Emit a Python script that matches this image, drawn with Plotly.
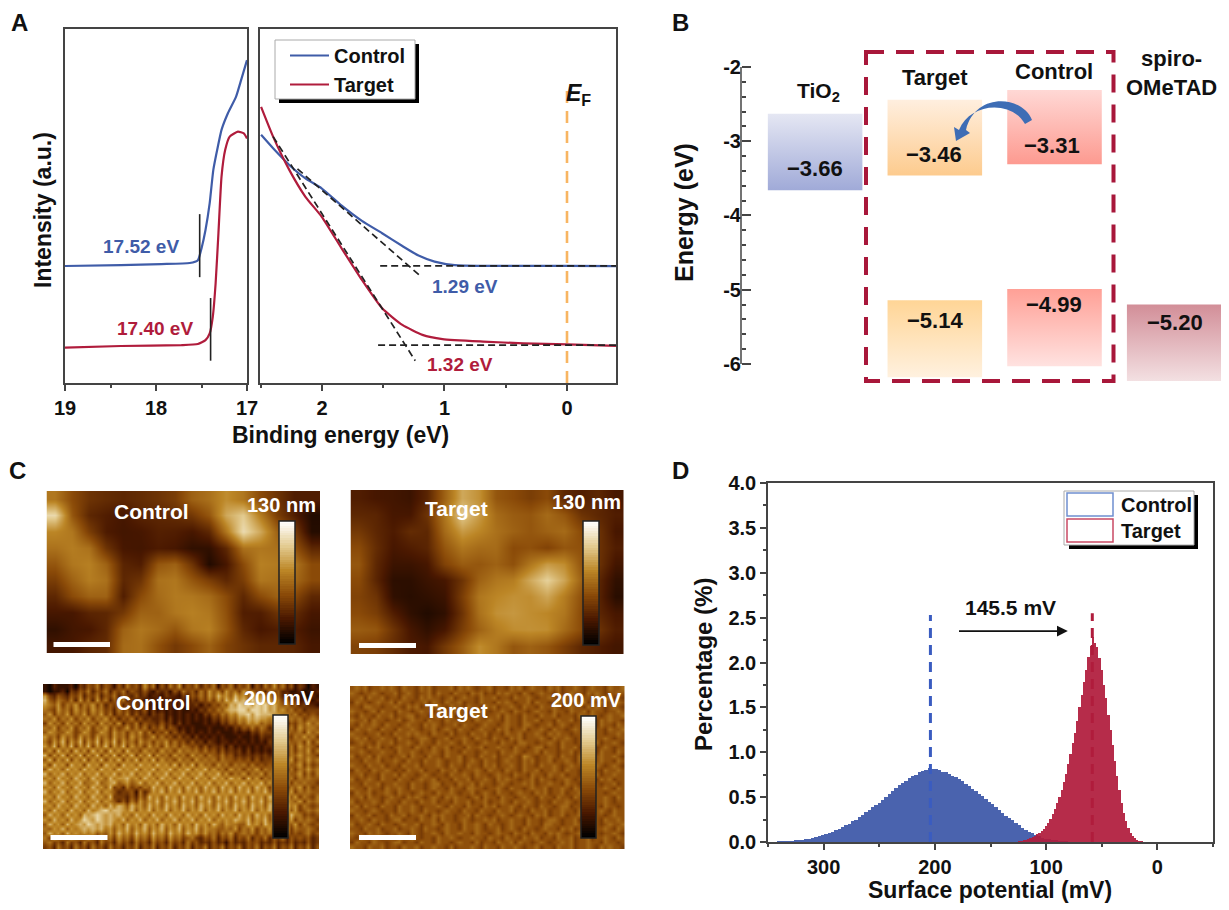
import plotly.graph_objects as go

W, H = 1229, 910
PAGE_PAD = 8
FIG_W, FIG_H = W - 2 * PAGE_PAD, H - PAGE_PAD
FONT = "Liberation Sans"
BLUE = "#3F5CA8"
RED = "#B01C3C"
INK = "#111111"
AXC = "#444444"

# ---------- Panel A data ----------
cutoff_ev_control = [19, 18.385, 17.94, 17.63, 17.54, 17.5, 17.456, 17.41, 17.37, 17.32, 17.28, 17.21, 17.12, 17.06, 17.0]
cutoff_int_control = [33.05, 33.3, 33.6, 33.9, 34.7, 38, 43.2, 50.8, 60.2, 66.8, 71.5, 76.2, 80.9, 86, 91.2]
cutoff_ev_target = [19, 18.385, 17.72, 17.54, 17.456, 17.41, 17.376, 17.345, 17.314, 17.28, 17.24, 17.19, 17.10, 17.035, 17.0]
cutoff_int_target = [9.97, 10.45, 10.7, 11, 12.1, 14, 18.7, 28.1, 42.3, 58.3, 65.8, 69.6, 71, 70.5, 69.1]
valence_ev_control = [2.497, 2.399, 2.267, 2.135, 2.003, 1.839, 1.674, 1.509, 1.344, 1.212, 1.081, 0.916, 0.685, 0.356, 0, -0.40]
valence_int_control = [70.1, 66.3, 61.6, 57.8, 55, 50.1, 45.8, 42.3, 38.7, 36, 34.3, 33.3, 33.1, 33.1, 33.1, 33]
valence_ev_target = [2.497, 2.399, 2.267, 2.135, 2.003, 1.839, 1.674, 1.509, 1.344, 1.18, 1.016, 0.685, 0.356, 0, -0.40]
valence_int_target = [78, 69.6, 60.2, 52.6, 47, 38, 29.1, 21.1, 16.4, 13.6, 12.4, 11.7, 11.2, 10.9, 10.5]
tangent_control = ([2.20, 1.196], [60.5, 30.2])
tangent_target = ([2.399, 1.239], [69.6, 6.3])
baseline_control = ([1.525, -0.40], [33.1, 33.1])
baseline_target = ([1.542, -0.40], [10.7, 10.7])
onset_control = ([17.52, 17.52], [47.7, 29.9])
onset_target = ([17.40, 17.40], [24, 6.3])
fermi = ([0, 0], [0, 82.5])

# ---------- Panel B data ----------
layer_names = ["TiO<sub>2</sub>", "Target", "Control", "spiro-<br>OMeTAD"]
layer_level_top = [-2.63, -2.44, -2.31, None]
layer_level_bottom = [-3.66, -3.46, -3.31, None]
layer_hole_top = [None, -5.14, -4.99, -5.20]
layer_hole_bottom = [None, -6.18, -6.03, -6.23]

# ---------- Panel D data ----------
control_pct = [.002,.003,.005,.007,.01,.013,.017,.022,.028,.035,.043,.052,.062,.074,.086,.10,.113,.13,.15,.165,.185,.205,.23,.25,.28,.30,.33,.355,.385,.41,.44,.47,.50,.535,.57,.60,.63,.66,.685,.71,.73,.75,.775,.79,.80,.82,.81,.815,.80,.785,.775,.76,.74,.72,.70,.675,.65,.625,.595,.57,.54,.51,.48,.45,.42,.385,.355,.325,.295,.265,.24,.21,.185,.16,.135,.115,.095,.078,.062,.05,.038,.03,.022,.015,.01,.006,.003]
target_pct = [.002,.005,.01,.015,.02,.027,.035,.045,.055,.07,.085,.105,.125,.15,.18,.215,.26,.31,.37,.43,.50,.58,.67,.76,.87,.98,1.10,1.22,1.35,1.50,1.64,1.78,1.92,2.06,2.18,2.28,2.22,2.17,2.05,1.92,1.75,1.60,1.42,1.25,1.08,.90,.73,.58,.44,.32,.23,.16,.10,.065,.04,.022,.012,.006,.003,.001]
control_start_mV, control_bin = 340, 3
target_start_mV, target_bin = 128, 2
peak_control, peak_target = 204, 58.5

# ---------- Panel C data ----------
height_control = [
 [55,40,31,28,26,28,31,35,48,53,62,55,40,31,22,22],
 [85,44,26,22,19,25,26,28,33,44,70,80,57,35,22,9],
 [60,55,35,21,18,19,23,22,19,26,55,86,70,48,35,10],
 [53,57,53,31,19,18,21,19,13,13,26,53,55,53,44,26],
 [44,55,58,48,25,22,44,48,31,9,19,40,58,56,55,40],
 [35,48,57,53,26,31,53,55,44,35,26,35,55,53,51,40],
 [26,40,48,48,22,40,51,56,55,51,40,26,40,48,40,26],
 [19,19,25,26,33,48,48,55,58,55,42,22,22,31,28,19],
 [13,18,19,26,48,55,51,44,55,58,44,26,19,22,22,16],
 [18,19,25,28,51,53,42,33,40,48,37,31,26,26,25,19]]
height_target = [
 [22,19,18,16,25,48,70,63,44,40,35,40,26,22,26,19],
 [26,25,19,19,31,55,80,66,51,46,44,51,44,31,26,22],
 [33,26,21,28,26,51,66,60,53,48,44,48,51,40,31,19],
 [40,28,19,22,25,44,55,51,51,40,42,37,44,42,31,22],
 [44,26,16,16,19,37,46,44,48,42,55,66,62,44,31,18],
 [40,25,12,12,16,19,31,48,55,57,70,82,69,48,26,13],
 [37,31,13,11,13,16,35,55,60,63,62,69,57,42,25,11],
 [40,35,22,13,9,13,31,53,63,65,62,60,55,40,26,19],
 [46,44,31,19,13,19,35,48,57,62,63,62,51,40,31,22],
 [37,35,28,21,19,33,46,62,55,44,48,44,35,26,22,18]]
potential_control_rows = [
 "2132223143546354253645374625364735463546254635462536474635243132",
 "2122314354635463546354353243425364536475647564756453645332231223",
 "7435435463546354635435342332433243546475867586758675645342322132",
 "8546546374637463546343423233232332435464758697869786756453423223",
 "7657465746574635463534342323232323342435465879897989786564534332",
 "6547564756475645364534352423232322324354657889979989786756453444",
 "5746574657465746354635342434232323232435465768897988877665645454",
 "6574657465746574635463534334242323232324354657687877676756564565",
 "4756475647564756473546354435342423222323243546576756564635465756",
 "6574657465746574645746463546354232322232223243546465354546475665",
 "5765576457645764756465746354635342323232322232324354435465564756",
 "7564756475647564756475645746453534242323232223223243345454657564",
 "6475847584758475847564756465746453534243233232323232435465564746",
 "7584758475847584758475647564756465453534342423232323343546475654",
 "5748574857485748574856475647564756564645353434242323243546465746",
 "8475847584758475847584758475647564756465464534343434344546575654",
 "5847584758475847584758475847564756475656465545453534454657465756",
 "7486748674867486748675867586758475847564756465646454545465574645",
 "5867586758675867586768576857685768576857564756465746564546465756",
 "8576857685768576857685768576857685768576857465746574657465574646",
 "6758675867586758677867586758675867586758675867485746574656465655",
 "8576857685668567856756857685768576857685768576857685746574656554",
 "6758675867586758453645465867586758675867586758675867485746574645",
 "8576857685768576534452635768576857685768576857685768576857465655",
 "6758675867586758444353648675867586758675867586758675867485746546",
 "8576857685768576535364757685768576857685768576857685768576574656",
 "6758675867586758687586758675867586758675867586758675867586746545",
 "7586758675867897887685768576857685768576857685768576857685745656",
 "5867586758789878786758675867586758675867586758675867586758664545",
 "7586758679879878768576857685768576857685767687685768576857465654",
 "5867586787987878675867586758675867586758657665586758675865746545",
 "6576857678787867576857685768576857685766556574657465746574655654",
 "5867586767675657586758675867586758675756465745656465646564545645",
 "6475647564754656475647564756475645643546354635463546354635454534",
 "5645364536453645364536453645364536453435342534354534353435343534",
 "4536453645364536453546354635463546354635463546354635463546354635"]
potential_target_rows = [
 "4545344545435443545344453545434453443545345443545344543454435445",
 "5434454344534543445354435443545343545443543454435345443545434454",
 "4453544534435443545443453454435445344354454344543544534435445343",
 "3544345445354434453543544534435443545434453544345443545344534454",
 "4435544344543545344454354435443545344543544354454345443545434543",
 "5443453544354434544354435443545434454354434544354435445354434454",
 "4354435445344553443454453443554344535443544354453444354454345445",
 "5445354434453454435443544534354454435443544534435445344543545443",
 "4354454354434544354543445354434544345443554344534543445443544354",
 "3544543544354454344534543544345443545344534454354434544534435445",
 "5443445343544545443544353443544534435445344543545443445354434454",
 "4545344544354434554344534454354435443545344454354454344354454344",
 "3454435445344543544354454354434544354435544344543544345445344543",
 "5443545343454435443544534435445344544354434553443544535443454344",
 "4454344544354454344543544354434544354454344535443445345443544354",
 "5344535443445354435443544534435445344543654344543544354434544543",
 "4435445344543544354454344534543544345443545344534454354434544354",
 "5443544534435445344454354435443545344543544354454345443545434543",
 "3544354454343544534435445344454354435443544534454354434544354454",
 "4453443544535443454344354454354434544354435443544534435445344544",
 "5344543544354434544534435445344543545443445354434454345443545344",
 "4435445344544354434553443544535443454344545344544354434554344534",
 "5443544354454354434544354435544344543544345445344543544354454354",
 "3544534454354434544354454344534543544345443545344534454354434544",
 "4453544345443545434543545443453544354434544354435443545434454354",
 "5344454354435443544534435445344534454354454344354454344354454344",
 "4535443544354454344454354435443545344543544354434553443544354434",
 "5443454344354454354434544354435443544534435445344544353444543544",
 "3544534435445344543545443445354434454345443545344534454354434544",
 "4454354434553443544535443454344545344544354434554344534544354454",
 "5344543544345445344543544354454354434544354435544344543544345445",
 "4435445344534454354434544354454344534543544345443545344534454354",
 "5443545434454354344543544544354434544354435443545434454354344543",
 "4354454344354454344354454344544354435443544534435445344534454354",
 "3544354434553443544354434544353443544535443454344545344544354434",
 "5443544534435445344544353444543544354454344534435445344543545443"]

def digit_grid(rows, step, base):
    n = min(len(r) for r in rows)
    return [[int(c) * step + base for c in r[:n]] for r in rows]

potential_control = digit_grid(potential_control_rows, 10, -6)
potential_target = digit_grid(potential_target_rows, 8, 10)
colorbar_levels = [[v] for v in range(100, -1, -2)]

# ---------- helpers ----------
def fx(p): return (p - PAGE_PAD) / FIG_W
def fy(p): return 1 - (p - PAGE_PAD) / FIG_H
def dx(a, b): return [fx(a), fx(b)]
def dy(top, bottom): return [fy(bottom), fy(top)]

def label(text, px, py, size=17, color=INK, bold=True, angle=0, anchor="center"):
    t = f"<b>{text}</b>" if bold else text
    return dict(text=t, x=fx(px), y=fy(py), xref="paper", yref="paper", showarrow=False,
                xanchor=anchor, yanchor="middle", textangle=angle,
                font=dict(family=FONT, size=size, color=color))

def rect(x0, y0, x1, y1, fill, line=None, lw=1):
    return dict(type="rect", xref="paper", yref="paper", x0=fx(x0), x1=fx(x1), y0=fy(y0), y1=fy(y1),
                fillcolor=fill, line=dict(color=line or fill, width=lw if line else 0))

fig = go.Figure()
TICKF = dict(family=FONT, size=20, color=INK, weight=700)

def line(x, y, color, width=2.2, dash="solid", xa="x", ya="y", name=None, legend=False, smooth=False):
    ln = dict(color=color, width=width, dash=dash)
    if smooth:
        ln.update(shape="spline", smoothing=0.5)
    fig.add_trace(go.Scatter(x=x, y=y, mode="lines", name=name, showlegend=legend, line=ln, xaxis=xa, yaxis=ya))

# ---------- Panel A ----------
line(cutoff_ev_control, cutoff_int_control, BLUE, smooth=True)
line(cutoff_ev_target, cutoff_int_target, RED, smooth=True)
line(*onset_control, "#222222", 1.6)
line(*onset_target, "#222222", 1.6)
line(valence_ev_control, valence_int_control, BLUE, xa="x2", ya="y2", name="Control", legend=True, smooth=True)
line(valence_ev_target, valence_int_target, RED, xa="x2", ya="y2", name="Target", legend=True, smooth=True)
for seg in (tangent_control, tangent_target, baseline_control, baseline_target):
    line(*seg, "#222222", 1.7, "7px,4px", "x2", "y2")
line(*fermi, "#F8B562", 2.6, "12px,8px", "x2", "y2")

# ---------- Panel B ----------
gradients = {
    "upper": [["#A0AAD8", "#E5E7F3"], ["#FDCB8E", "#FFEFDF"], ["#FD9A90", "#FFD8D5"], None],
    "lower": [None, ["#FFF1DF", "#FFD596"], ["#FFE2E0", "#FFA096"], ["#F3E0E2", "#D28E98"]],
}
col_half = 0.395
def box(i, top, bottom, cols):
    fig.add_trace(go.Scatter(
        x=[i - col_half, i + col_half, i + col_half, i - col_half, i - col_half],
        y=[top, top, bottom, bottom, top], mode="lines", fill="toself", showlegend=False,
        line=dict(width=0, color="rgba(0,0,0,0)"), hoverinfo="skip",
        fillgradient=dict(type="vertical", colorscale=[[0, cols[0]], [1, cols[1]]]),
        xaxis="x3", yaxis="y3"))
for i in range(4):
    if layer_level_top[i] is not None:
        box(i, layer_level_top[i], layer_level_bottom[i], gradients["upper"][i])
    if layer_hole_top[i] is not None:
        box(i, layer_hole_top[i], layer_hole_bottom[i], gradients["lower"][i])

# ---------- Panel C ----------
AFM = [[0, "#000000"], [0.2, "#4A1800"], [0.4, "#8A4A08"], [0.6, "#BC8626"], [0.8, "#E3CB90"], [1, "#FFFFFF"]]
maps = [
    (height_control, (46.5, 320), (491, 653), (279, 295), (521, 644), "4", "9"),
    (height_target, (350.5, 624), (490, 654), (583, 599), (521, 645), "5", "10"),
    (potential_control, (43, 319), (684, 849), (273, 288), (715, 838), "6", "11"),
    (potential_target, (350, 624.5), (686, 849), (581, 596), (716, 838), "7", "12"),
]
for z, _, _, _, _, n, m in maps:
    fig.add_trace(go.Heatmap(z=z, zmin=0, zmax=100, colorscale=AFM, zsmooth="best", showscale=False,
                             xaxis="x" + n, yaxis="y" + n, hoverinfo="skip"))
for z, _, _, _, _, n, m in maps:
    fig.add_trace(go.Heatmap(z=colorbar_levels, zmin=0, zmax=100, colorscale=AFM, showscale=False,
                             xaxis="x" + m, yaxis="y" + m, hoverinfo="skip"))

# ---------- Panel D ----------
fig.add_trace(go.Bar(x=[control_start_mV - control_bin * i for i in range(len(control_pct))], y=control_pct,
                     width=control_bin, marker=dict(color="#4A63AE", line=dict(width=0)), showlegend=False,
                     xaxis="x8", yaxis="y8"))
fig.add_trace(go.Bar(x=[target_start_mV - target_bin * i for i in range(len(target_pct))], y=target_pct,
                     width=target_bin, marker=dict(color="rgba(176,28,60,0.93)", line=dict(width=0)), showlegend=False,
                     xaxis="x8", yaxis="y8"))
line([peak_control, peak_control], [0, 2.53], "#3A5CC0", 3, "10px,7px", "x8", "y8")
line([peak_target, peak_target], [0, 2.55], "#B01C3C", 3, "10px,7px", "x8", "y8")

# ---------- Axes ----------
common = dict(showgrid=False, zeroline=False, linecolor=AXC, linewidth=1.5, mirror=True, automargin=False)
tickc = dict(ticks="outside", ticklen=6, tickwidth=1.5, tickcolor=AXC, tickfont=TICKF)
layout = dict(
    template="none",
    width=FIG_W, height=FIG_H, margin=dict(l=0, r=0, t=0, b=0), paper_bgcolor="white", plot_bgcolor="white",
    barmode="overlay", bargap=0,
    xaxis=dict(domain=dx(65, 247), range=[19, 17], tickvals=[19, 18, 17], anchor="y",
               minor=dict(tickvals=[18.5, 17.5], ticks="outside", ticklen=3, tickcolor=AXC), **common, **tickc),
    yaxis=dict(domain=dy(29, 383), range=[0, 100], showticklabels=False, ticks="", anchor="x", **common),
    xaxis2=dict(domain=dx(259.5, 616), range=[2.51, -0.4], tickvals=[2, 1, 0], anchor="y2",
                minor=dict(tickvals=[2.5, 1.5, 0.5], ticks="outside", ticklen=3, tickcolor=AXC), **common, **tickc),
    yaxis2=dict(domain=dy(29, 383), range=[0, 100], showticklabels=False, ticks="", anchor="x2", **common),
    xaxis3=dict(domain=dx(742, 1221), range=[-0.611, 3.391], visible=False, anchor="y3"),
    yaxis3=dict(domain=dy(45, 385), range=[-6.283, -1.704], tickvals=[-2, -3, -4, -5, -6],
                ticktext=["-2", "-3", "-4", "-5", "-6"], ticks="inside", ticklen=9, tickwidth=1.5, tickcolor=AXC,
                tickfont=TICKF, showgrid=False, zeroline=False, showline=False, anchor="x3", automargin=False,
                minor=dict(tickvals=[-2 - 0.2 * k for k in range(21)], ticks="inside", ticklen=4, tickcolor=AXC)),
    xaxis8=dict(domain=dx(768, 1213), range=[350, -50], tickvals=[300, 200, 100, 0], anchor="y8",
                minor=dict(tickvals=[350, 250, 150, 50, -50], ticks="outside", ticklen=3, tickcolor=AXC), **common, **tickc),
    yaxis8=dict(domain=dy(483, 842), range=[0, 4], tickvals=[0, .5, 1, 1.5, 2, 2.5, 3, 3.5, 4], tickformat=".1f", anchor="x8",
                minor=dict(tickvals=[.25, .75, 1.25, 1.75, 2.25, 2.75, 3.25, 3.75], ticks="outside", ticklen=3, tickcolor=AXC),
                **common, **tickc),
    legend=dict(x=fx(285), y=fy(36), xanchor="left", yanchor="top", bgcolor="rgba(0,0,0,0)", borderwidth=0,
                font=dict(family=FONT, size=20, color=INK, weight=700), itemwidth=39, tracegroupgap=0),
    showlegend=True,
)
for (_, xr, yr, cx, cy, n, m) in maps:
    layout["xaxis" + n] = dict(domain=dx(*xr), visible=False, anchor="y" + n, constrain="domain")
    layout["yaxis" + n] = dict(domain=dy(*yr), visible=False, anchor="x" + n, autorange="reversed")
    layout["xaxis" + m] = dict(domain=dx(*cx), visible=False, anchor="y" + m)
    layout["yaxis" + m] = dict(domain=dy(*cy), visible=False, anchor="x" + m, autorange="reversed")

# ---------- Decorations ----------
arrow_pts = "M 1032 120 C 1022 95 975 92 966 130 L 970 133 L 956 141 L 954 127 L 959 130 C 970 102 1012 100 1025 124 Z"
def to_paper(path):
    out, is_x = [], True
    for t in path.split():
        if t.isalpha():
            out.append(t); is_x = True
        else:
            v = float(t)
            out.append(f"{fx(v):.5f}" if is_x else f"{fy(v):.5f}")
            is_x = not is_x
    return " ".join(out)

shapes = [
    rect(279, 44, 419, 103, "#000000"),
    rect(275, 40, 415, 99, "white", "#AAAAAA", 1),
    rect(1069, 495, 1198, 549, "#000000"),
    rect(1064, 491, 1194, 545, "white", "#AAAAAA", 1),
    rect(1067, 493, 1113, 516, "white", "#6F8FD0", 1.5),
    rect(1067, 519, 1113, 542, "white", "#C94A64", 1.5),
    dict(type="rect", xref="paper", yref="paper", x0=fx(866), x1=fx(1113.5), y0=fy(52), y1=fy(381),
         line=dict(color="#A8173A", width=4, dash="18px,12px")),
    dict(type="line", xref="paper", yref="y3", x0=fx(741), x1=fx(741), y0=-2, y1=-6,
         line=dict(color=AXC, width=1.5)),
    dict(type="path", xref="paper", yref="paper", path=to_paper(arrow_pts), fillcolor="#3E6DB5", line=dict(width=0)),
    rect(53.5, 642, 110, 647, "white"),
    rect(359, 643, 416, 648, "white"),
    rect(50.5, 835, 107.5, 840, "white"),
    rect(359, 835, 416, 840, "white"),
]
for (_, _, _, cx, cy, _, _) in maps:
    shapes.append(dict(type="rect", xref="paper", yref="paper", x0=fx(cx[0]), x1=fx(cx[1]), y0=fy(cy[0]), y1=fy(cy[1]),
                       line=dict(color="#222222", width=1.5)))

annotations = [
    label("A", 19, 23, 24), label("B", 680, 23, 24), label("C", 17, 470, 24), label("D", 680, 470, 24),
    label("Binding energy (eV)", 340, 435, 23),
    label("Intensity (a.u.)", 43, 210, 23, angle=-90),
    label("Energy (eV)", 684, 213, 25, angle=-90),
    label("Percentage (%)", 703, 665, 24, angle=-90),
    label("Surface potential (mV)", 990, 890, 23),
    label("17.52 eV", 141, 247, 19, BLUE), label("17.40 eV", 155, 328, 19, RED),
    label("1.29 eV", 465, 286, 19, BLUE), label("1.32 eV", 460, 365, 19, RED),
    dict(text="<b><i>E</i><sub>F</sub></b>", x=fx(578), y=fy(78), xref="paper", yref="paper", showarrow=False,
         font=dict(family=FONT, size=23, color=INK)),
    label(layer_names[0], 818, 92, 21), label(layer_names[1], 934.5, 77, 22), label(layer_names[2], 1054, 72, 22),
    label(layer_names[3], 1171, 73, 22),
    label("−3.66", 814.5, 169, 22), label("−3.46", 933.5, 154, 22), label("−3.31", 1052, 146, 22),
    label("−5.14", 934.5, 320, 22), label("−4.99", 1054, 304, 22), label("−5.20", 1174.5, 322, 22),
    label("Control", 151, 512, 21, "white"), label("Target", 456, 508, 21, "white"),
    label("130 nm", 281, 505, 20, "white"), label("130 nm", 586, 502, 20, "white"),
    label("Control", 153, 702, 21, "white"), label("Target", 456, 710, 21, "white"),
    label("200 mV", 279, 698, 20, "white"), label("200 mV", 586, 700, 20, "white"),
    label("145.5 mV", 1010, 607, 21),
    label("Control", 1119, 505, 20, anchor="left"), label("Target", 1119, 531, 20, anchor="left"),
    dict(x=80.5, y=2.35, ax=181, ay=2.35, xref="x8", yref="y8", axref="x8", ayref="y8", showarrow=True, text=" ",
         arrowhead=2, arrowsize=1.2, arrowwidth=1.8, arrowcolor="#111111"),
]
fig.update_layout(**layout, shapes=shapes, annotations=annotations)
fig.write_html("out.html", config=dict(displayModeBar=False))
